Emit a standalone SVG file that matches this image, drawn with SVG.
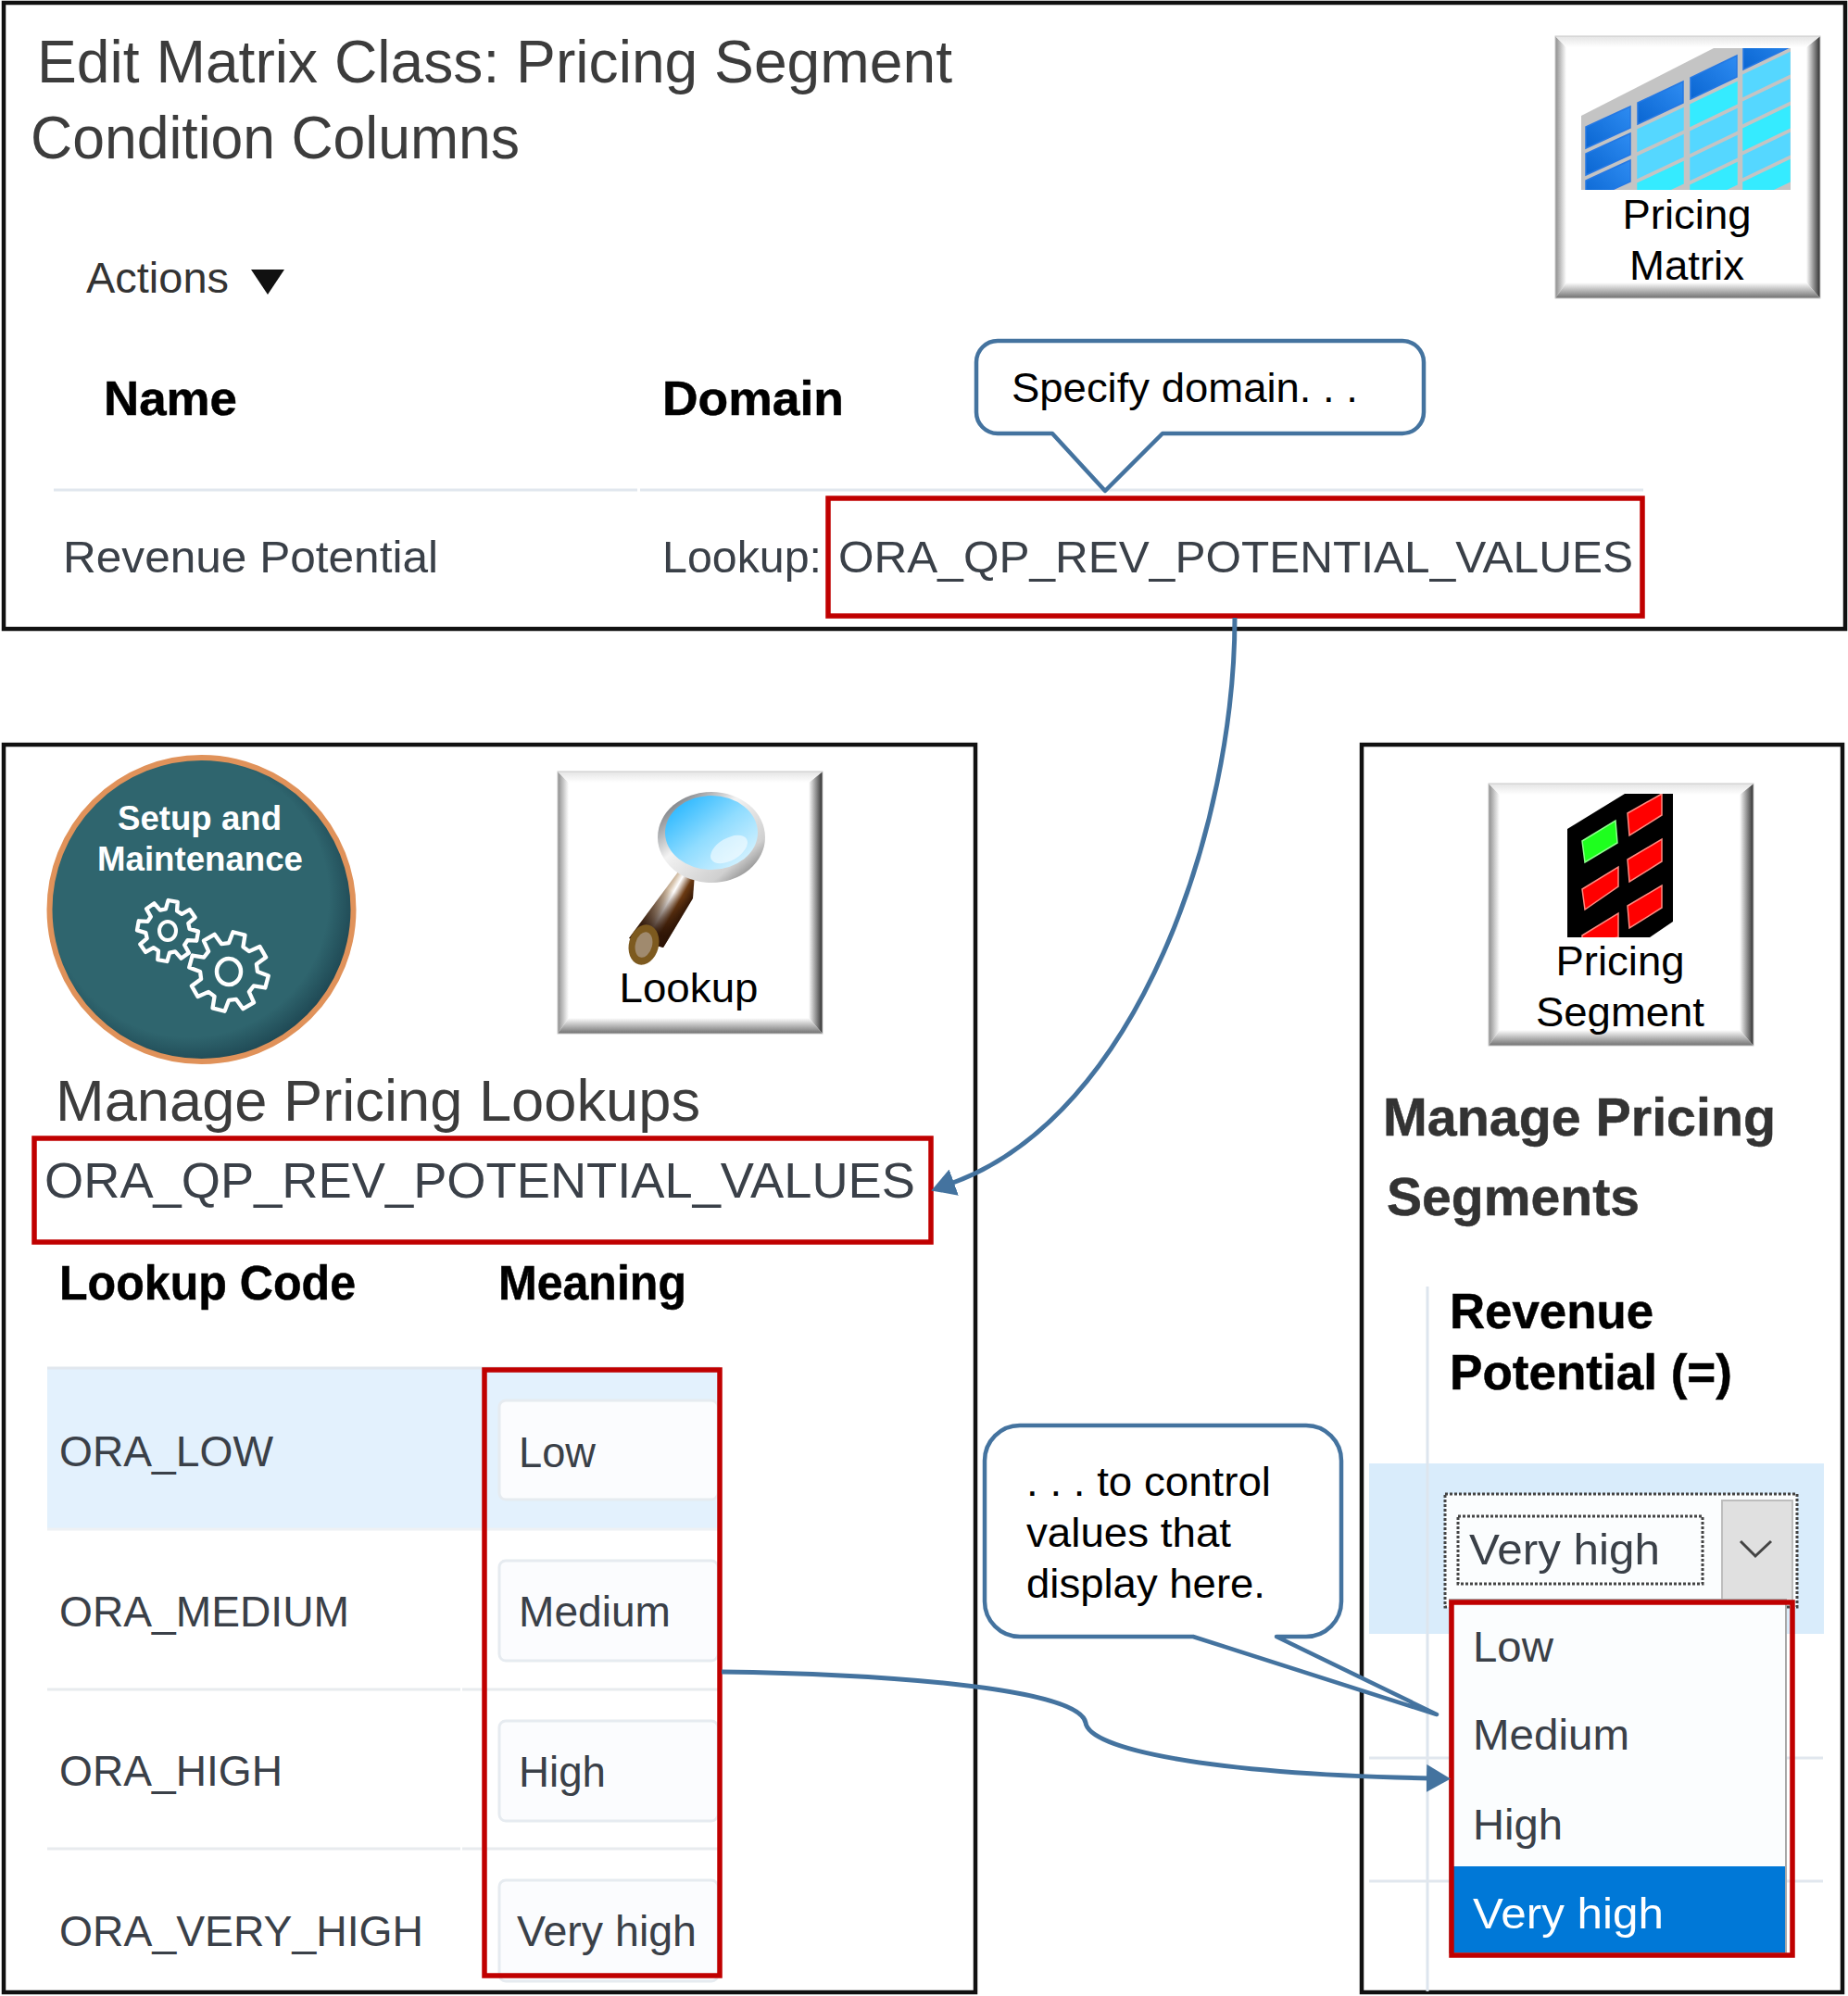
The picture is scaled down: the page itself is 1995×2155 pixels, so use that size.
<svg xmlns="http://www.w3.org/2000/svg" width="1995" height="2155" viewBox="0 0 1995 2155">
<style>
text{font-family:"Liberation Sans",Arial,sans-serif}
.panel{fill:#fff;stroke:#111;stroke-width:4.5}
.red{fill:none;stroke:#c00000;stroke-width:5.5}
.callout{fill:#fff;stroke:#44739f;stroke-width:4.5;stroke-linejoin:round}
.conn{fill:none;stroke:#44739f;stroke-width:5}
.btn{font-size:45px;fill:#000;text-anchor:middle}
.call{font-size:45px;fill:#000}
.ui{font-size:47px;fill:#3a4048}
.hd{font-weight:bold;fill:#000;stroke:#000;stroke-width:.5}
.title{font-size:64px;fill:#3c3c3c}
.rule{stroke:#e1e7ee;stroke-width:3}
.inp{fill:#fbfcfe;stroke:#e6ebf0;stroke-width:3}
.dark{fill:url(#cellDark);stroke:#2478e4;stroke-width:1.5}
.c1{fill:#55d7ff;stroke:#55d7ff;stroke-width:1.5}
.c2{fill:#35ebff;stroke:#35ebff;stroke-width:1.5}
.rd{fill:#ff0000;stroke:#ff8a80;stroke-width:1.5}
.gear{fill:none;stroke:#fff;stroke-linejoin:round}
.dot{fill:none;stroke:#444;stroke-width:3;stroke-dasharray:3 2}
</style>
<defs>
<linearGradient id="gL" x1="0" x2="1" y1="0" y2="0"><stop offset="0" stop-color="#8c8c8c"/><stop offset="1" stop-color="#fff"/></linearGradient>
<linearGradient id="gR" x1="1" x2="0" y1="0" y2="0"><stop offset="0" stop-color="#2e2e2e"/><stop offset="1" stop-color="#fff"/></linearGradient>
<linearGradient id="gB" x1="0" x2="0" y1="1" y2="0"><stop offset="0" stop-color="#707070"/><stop offset="1" stop-color="#fff"/></linearGradient>
<linearGradient id="gT" x1="0" x2="0" y1="0" y2="1"><stop offset="0" stop-color="#e4e4e4"/><stop offset="1" stop-color="#fff"/></linearGradient>
<linearGradient id="cellDark" x1="0" x2="1" y1="1" y2="0"><stop offset="0" stop-color="#0a66d2"/><stop offset="1" stop-color="#2e8cf2"/></linearGradient>
<radialGradient id="disc" cx="0.46" cy="0.46" r="0.56"><stop offset="0.82" stop-color="#2f656e"/><stop offset="1" stop-color="#1d4551"/></radialGradient>
<linearGradient id="ring" x1="0" y1="0" x2="1" y2="1"><stop offset="0" stop-color="#4a4f56"/><stop offset="0.4" stop-color="#f2f2f2"/><stop offset="0.75" stop-color="#d0d0d0"/><stop offset="1" stop-color="#555"/></linearGradient>
<linearGradient id="lens" x1="0" y1="0" x2="1" y2="1"><stop offset="0" stop-color="#10aeff"/><stop offset="0.5" stop-color="#8fdcff"/><stop offset="1" stop-color="#e8f8ff"/></linearGradient>
<linearGradient id="handle" gradientUnits="userSpaceOnUse" x1="698" y1="968" x2="738" y2="991"><stop offset="0" stop-color="#5a3210"/><stop offset="0.38" stop-color="#d8c5ae"/><stop offset="0.5" stop-color="#fff"/><stop offset="0.72" stop-color="#6b3a12"/><stop offset="1" stop-color="#2a1205"/></linearGradient>
<linearGradient id="handleShade" gradientUnits="userSpaceOnUse" x1="740" y1="945" x2="697" y2="1020"><stop offset="0.25" stop-color="#2a1205" stop-opacity="0"/><stop offset="0.8" stop-color="#2a1205" stop-opacity=".9"/></linearGradient>
<clipPath id="mxClip"><rect x="1706" y="52" width="227" height="153"/></clipPath>
<clipPath id="psClip"><rect x="1691" y="857" width="114" height="155"/></clipPath>
<g id="bevel">
<rect x="0" y="0" width="286" height="283" fill="#fff"/>
<polygon points="0,0 12,12 12,266 0,283" fill="url(#gL)"/>
<polygon points="286,0 286,283 271,266 271,12" fill="url(#gR)"/>
<polygon points="0,283 286,283 271,266 12,266" fill="url(#gB)"/>
<polygon points="0,0 286,0 271,12 12,12" fill="url(#gT)"/>
<rect x="0" y="0" width="286" height="283" fill="none" stroke="#c9c9c9" stroke-width="1"/>
</g>
<polygon id="gearShape" points=".695,-.186 .988,-.156 .988,.156 .695,.186 .623,.360 .809,.588 .588,.809 .360,.623 .186,.695 .156,.988 -.156,.988 -.186,.695 -.360,.623 -.588,.809 -.809,.588 -.623,.360 -.695,.186 -.988,.156 -.988,-.156 -.695,-.186 -.623,-.360 -.809,-.588 -.588,-.809 -.360,-.623 -.186,-.695 -.156,-.988 .156,-.988 .186,-.695 .360,-.623 .588,-.809 .809,-.588 .623,-.360"/>
<marker id="arrow" viewBox="0 0 26 30" markerUnits="userSpaceOnUse" markerWidth="26" markerHeight="30" refX="4" refY="15" orient="auto"><path d="M0 0L26 15L0 30Z" fill="#44739f"/></marker>
</defs>
<rect x="0" y="0" width="1995" height="2155" fill="#fff"/>

<g id="panel-matrix-class">
<rect class="panel" x="4" y="3" width="1988" height="676"/>
<text class="title" x="40" y="89" textLength="988" lengthAdjust="spacingAndGlyphs">Edit Matrix Class: Pricing Segment</text>
<text class="title" x="33" y="171" textLength="528" lengthAdjust="spacingAndGlyphs">Condition Columns</text>
<text x="93" y="316" font-size="47" fill="#333" textLength="154" lengthAdjust="spacingAndGlyphs">Actions</text>
<polygon points="271,291 307,291 289,318" fill="#111"/>
<text class="hd" x="112" y="448" font-size="52" textLength="144" lengthAdjust="spacingAndGlyphs">Name</text>
<text class="hd" x="715" y="448" font-size="52" textLength="196" lengthAdjust="spacingAndGlyphs">Domain</text>
<line class="rule" x1="58" y1="529" x2="688" y2="529"/>
<line class="rule" x1="691" y1="529" x2="1774" y2="529"/>
<text class="ui" x="68" y="618" style="font-size:49px" textLength="405" lengthAdjust="spacingAndGlyphs">Revenue Potential</text>
<text class="ui" x="715" y="618" style="font-size:49px" textLength="172" lengthAdjust="spacingAndGlyphs">Lookup:</text>
<text class="ui" x="905" y="618" style="font-size:49px" textLength="858" lengthAdjust="spacingAndGlyphs">ORA_QP_REV_POTENTIAL_VALUES</text>
<rect class="red" x="894" y="538" width="879" height="127"/>
</g>

<g id="node-pricing-matrix">
<use href="#bevel" x="1679" y="39"/>
<g clip-path="url(#mxClip)">
<polygon points="1707,125 1850,52 1934,52 1934,205 1707,205" fill="#c4c4c4"/>
<polygon class="dark" points="1712,137 1760,115 1760,138 1712,160"/>
<polygon class="dark" points="1712,166 1760,144 1760,167 1712,189"/>
<polygon class="dark" points="1712,195 1760,173 1760,196 1712,218"/>
<polygon class="dark" points="1768,111 1817,88 1817,111 1768,134"/>
<polygon class="c1" points="1768,140 1817,117 1817,140 1768,163"/>
<polygon class="c1" points="1768,169 1817,146 1817,169 1768,192"/>
<polygon class="c2" points="1768,198 1817,175 1817,198 1768,221"/>
<polygon class="dark" points="1825,84 1875,60 1875,83 1825,107"/>
<polygon class="c2" points="1825,113 1875,89 1875,112 1825,136"/>
<polygon class="c1" points="1825,142 1875,118 1875,141 1825,165"/>
<polygon class="c1" points="1825,171 1875,147 1875,170 1825,194"/>
<polygon class="c2" points="1825,200 1875,176 1875,199 1825,223"/>
<polygon class="dark" points="1882,52 1932,28 1932,51 1882,75"/>
<polygon class="c1" points="1882,81 1932,57 1932,80 1882,104"/>
<polygon class="c1" points="1882,110 1932,86 1932,109 1882,133"/>
<polygon class="c2" points="1882,139 1932,115 1932,138 1882,162"/>
<polygon class="c1" points="1882,168 1932,144 1932,167 1882,191"/>
<polygon class="c2" points="1882,197 1932,173 1932,196 1882,220"/>
</g>
<text class="btn" x="1821" y="247" textLength="139" lengthAdjust="spacingAndGlyphs">Pricing</text>
<text class="btn" x="1821" y="302" textLength="124" lengthAdjust="spacingAndGlyphs">Matrix</text>
</g>

<g id="panel-lookups">
<rect class="panel" x="4" y="804" width="1049" height="1347"/>
<text x="60" y="1210" font-size="63" fill="#3c3c3c" textLength="696" lengthAdjust="spacingAndGlyphs">Manage Pricing Lookups</text>
<text class="ui" x="48" y="1293" style="font-size:54px" textLength="940" lengthAdjust="spacingAndGlyphs">ORA_QP_REV_POTENTIAL_VALUES</text>
<rect class="red" x="37" y="1229" width="968" height="112"/>
<text class="hd" x="64" y="1403" font-size="51" textLength="320" lengthAdjust="spacingAndGlyphs">Lookup Code</text>
<text class="hd" x="538" y="1403" font-size="51" textLength="203" lengthAdjust="spacingAndGlyphs">Meaning</text>
<rect x="51" y="1477" width="726" height="174" fill="#e3f1fd"/>
<line class="rule" x1="51" y1="1477" x2="777" y2="1477"/>
<line class="rule" x1="51" y1="1651" x2="777" y2="1651" style="stroke:#eef1f4"/>
<line class="rule" x1="51" y1="1824" x2="497" y2="1824" style="stroke:#e8ebee"/>
<line class="rule" x1="499" y1="1824" x2="777" y2="1824" style="stroke:#e8ebee"/>
<line class="rule" x1="51" y1="1996" x2="497" y2="1996" style="stroke:#e8ebee"/>
<line class="rule" x1="499" y1="1996" x2="777" y2="1996" style="stroke:#e8ebee"/>
<rect class="inp" x="539" y="1512" width="236" height="107" rx="7"/>
<rect class="inp" x="539" y="1685" width="236" height="108" rx="7"/>
<rect class="inp" x="539" y="1858" width="236" height="108" rx="7"/>
<rect class="inp" x="539" y="2030" width="236" height="109" rx="7"/>
<text class="ui" x="64" y="1583" style="font-size:46px" textLength="231" lengthAdjust="spacingAndGlyphs">ORA_LOW</text>
<text class="ui" x="64" y="1756" style="font-size:46px" textLength="313" lengthAdjust="spacingAndGlyphs">ORA_MEDIUM</text>
<text class="ui" x="64" y="1928" style="font-size:46px" textLength="241" lengthAdjust="spacingAndGlyphs">ORA_HIGH</text>
<text class="ui" x="64" y="2101" style="font-size:46px" textLength="393" lengthAdjust="spacingAndGlyphs">ORA_VERY_HIGH</text>
<text class="ui" x="560" y="1584" style="font-size:46px" textLength="83" lengthAdjust="spacingAndGlyphs">Low</text>
<text class="ui" x="560" y="1756" style="font-size:46px" textLength="164" lengthAdjust="spacingAndGlyphs">Medium</text>
<text class="ui" x="560" y="1929" style="font-size:46px" textLength="94" lengthAdjust="spacingAndGlyphs">High</text>
<text class="ui" x="558" y="2101" style="font-size:46px" textLength="194" lengthAdjust="spacingAndGlyphs">Very high</text>
<rect class="red" x="523" y="1479" width="254" height="654"/>
</g>

<g id="node-setup-maintenance">
<circle cx="217.5" cy="982" r="164" fill="url(#disc)" stroke="#e0925a" stroke-width="6"/>
<text x="215.5" y="896" font-size="37" font-weight="bold" fill="#fff" text-anchor="middle" textLength="177" lengthAdjust="spacingAndGlyphs">Setup and</text>
<text x="216" y="940" font-size="37" font-weight="bold" fill="#fff" text-anchor="middle" textLength="222" lengthAdjust="spacingAndGlyphs">Maintenance</text>
<use href="#gearShape" class="gear" transform="translate(181 1005) rotate(10) scale(33)" stroke-width=".13"/>
<ellipse cx="181" cy="1005" rx="9" ry="10" class="gear" stroke-width="4"/>
<use href="#gearShape" class="gear" transform="translate(247 1049) rotate(15) scale(43)" stroke-width=".1"/>
<ellipse cx="247" cy="1049" rx="13" ry="14" class="gear" stroke-width="4.5"/>
</g>

<g id="node-lookup">
<use href="#bevel" x="602" y="833"/>
<polygon points="733,940 750,943 748,970 716,1023 679,1013 713,967" fill="url(#handle)"/>
<polygon points="733,940 750,943 748,970 716,1023 679,1013 713,967" fill="url(#handleShade)"/>
<ellipse cx="695" cy="1020" rx="16" ry="22" transform="rotate(15 695 1020)" fill="#7d5a1f"/>
<ellipse cx="695" cy="1020" rx="9" ry="14" transform="rotate(15 695 1020)" fill="#a08a6e"/>
<ellipse cx="768" cy="904" rx="58" ry="49" fill="url(#ring)"/>
<ellipse cx="768" cy="899" rx="50" ry="40" fill="url(#lens)"/>
<ellipse cx="787" cy="917" rx="22" ry="12" transform="rotate(-30 787 917)" fill="#fff" opacity=".55"/>
<text class="btn" x="743.5" y="1082" textLength="150" lengthAdjust="spacingAndGlyphs">Lookup</text>
</g>

<g id="panel-segments">
<rect class="panel" x="1470" y="804" width="519" height="1347"/>
<text x="1493" y="1226" font-size="57" font-weight="bold" fill="#333" stroke="#333" stroke-width=".5" textLength="424" lengthAdjust="spacingAndGlyphs">Manage Pricing</text>
<text x="1497" y="1312" font-size="57" font-weight="bold" fill="#333" stroke="#333" stroke-width=".5" textLength="273" lengthAdjust="spacingAndGlyphs">Segments</text>
<rect x="1478" y="1580" width="491" height="184" fill="#d9ecfb"/>
<line class="rule" x1="1541" y1="1389" x2="1541" y2="2150" style="stroke:#dde5ee"/>
<text class="hd" x="1565" y="1434" font-size="53" textLength="220" lengthAdjust="spacingAndGlyphs">Revenue</text>
<text class="hd" x="1565" y="1500" font-size="53" textLength="305" lengthAdjust="spacingAndGlyphs">Potential (=)</text>
<line class="rule" x1="1478" y1="1898" x2="1968" y2="1898"/>
<line class="rule" x1="1478" y1="2031" x2="1968" y2="2031"/>
<rect x="1560" y="1613" width="380" height="122" fill="#fbfdfe"/>
<rect class="dot" x="1560" y="1613" width="380" height="122"/>
<rect x="1859" y="1620" width="76" height="110" fill="#e0e0e0" stroke="#bdbdbd" stroke-width="2"/>
<rect class="dot" x="1574" y="1637" width="264" height="73"/>
<polyline points="1879,1664 1895,1680 1912,1664" fill="none" stroke="#444" stroke-width="3"/>
<text class="ui" x="1586" y="1689" textLength="206" lengthAdjust="spacingAndGlyphs">Very high</text>
<rect x="1565" y="1727" width="363" height="381" fill="#fbfdfe" stroke="#a8a8a8" stroke-width="2"/>
<text class="ui" x="1590" y="1794" textLength="87" lengthAdjust="spacingAndGlyphs">Low</text>
<text class="ui" x="1590" y="1889" textLength="169" lengthAdjust="spacingAndGlyphs">Medium</text>
<text class="ui" x="1590" y="1986" textLength="97" lengthAdjust="spacingAndGlyphs">High</text>
<rect x="1566" y="2015" width="361" height="93" fill="#0078d7"/>
<text x="1590" y="2082" font-size="47" fill="#fff" textLength="206" lengthAdjust="spacingAndGlyphs">Very high</text>
<rect class="red" x="1567" y="1730" width="368" height="381"/>
</g>

<g id="node-pricing-segment">
<use href="#bevel" x="1607" y="846"/>
<polygon points="1692,895 1754,857 1806,857 1806,995 1781,1012 1692,1012" fill="#000"/>
<polygon points="1708,908 1744,886 1746,910 1711,931" fill="#1eff1e" stroke="#8dff8d" stroke-width="1.5"/>
<g clip-path="url(#psClip)">
<polygon class="rd" points="1757,878 1794,857 1794,880 1759,902"/>
<polygon class="rd" points="1757,928 1794,906 1794,930 1759,952"/>
<polygon class="rd" points="1757,978 1794,956 1794,980 1759,1002"/>
<polygon class="rd" points="1708,960 1747,936 1747,957 1711,982"/>
<polygon class="rd" points="1708,1010 1747,986 1747,1012 1708,1020"/>
</g>
<text class="btn" x="1749" y="1053" textLength="139" lengthAdjust="spacingAndGlyphs">Pricing</text>
<text class="btn" x="1749" y="1108" textLength="182" lengthAdjust="spacingAndGlyphs">Segment</text>
</g>

<g id="callout-specify">
<path class="callout" d="M1077 368H1514a23 23 0 0 1 23 23V445a23 23 0 0 1-23 23H1255L1193 530L1136 468H1077a23 23 0 0 1-23-23V391a23 23 0 0 1 23-23Z"/>
<text class="call" x="1092" y="434" textLength="374" lengthAdjust="spacingAndGlyphs">Specify domain. . .</text>
</g>

<g id="callout-control">
<path class="callout" d="M1101 1539H1410a38 38 0 0 1 38 38V1729a38 38 0 0 1-38 38H1378L1551 1851L1288 1767H1101a38 38 0 0 1-38-38V1577a38 38 0 0 1 38-38Z"/>
<text class="call" x="1108" y="1615" textLength="264" lengthAdjust="spacingAndGlyphs">. . . to control</text>
<text class="call" x="1108" y="1670" textLength="221" lengthAdjust="spacingAndGlyphs">values that</text>
<text class="call" x="1108" y="1725" textLength="258" lengthAdjust="spacingAndGlyphs">display here.</text>
</g>

<g id="connectors">
<path class="conn" marker-end="url(#arrow)" d="M1333 667C1333 890 1230 1205 1026 1278"/>
<path class="conn" marker-end="url(#arrow)" d="M779 1805C930 1807 1165 1820 1172 1860C1176 1888 1300 1915 1544 1920"/>
</g>
</svg>
